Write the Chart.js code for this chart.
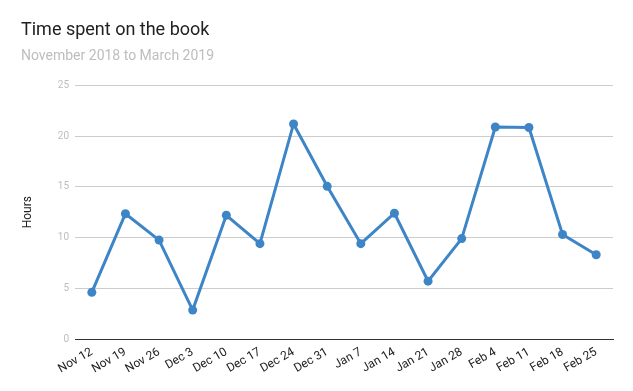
<!DOCTYPE html>
<html>
<head>
<meta charset="utf-8">
<script src="https://cdn.jsdelivr.net/npm/chart.js@4/dist/chart.umd.min.js"></script>
<style>
html,body{margin:0;padding:0;background:#fff;}
#wrap{width:633px;height:391px;position:relative;}
</style>
</head>
<body>
<div id="wrap"><canvas id="c" width="633" height="391"></canvas></div>
<script>
const weeks = ["Nov 12","Nov 19","Nov 26","Dec 3","Dec 10","Dec 17","Dec 24","Dec 31","Jan 7","Jan 14","Jan 21","Jan 28","Feb 4","Feb 11","Feb 18","Feb 25"];
const hours = [4.6, 12.35, 9.75, 2.85, 12.2, 9.4, 21.2, 15.05, 9.4, 12.4, 5.7, 9.9, 20.9, 20.85, 10.3, 8.3];
const yTicks = [0, 5, 10, 15, 20, 25];
const titleText = "Time spent on the book";
const subtitleText = "November 2018 to March 2019";
const yTitle = "Hours";

Chart.defaults.font.family = "Roboto, 'Noto Sans', sans-serif";

new Chart(document.getElementById('c'), {
  type: 'line',
  data: {
    labels: weeks,
    datasets: [{
      data: hours,
      borderColor: '#3d85c6',
      backgroundColor: '#3d85c6',
      borderWidth: 3,
      pointRadius: 4.5,
      pointBorderWidth: 0,
      pointBackgroundColor: '#3d85c6',
      tension: 0,
      fill: false
    }]
  },
  options: {
    responsive: false,
    animation: false,
    devicePixelRatio: 1,
    layout: { padding: { left: 21, right: 20, top: 0, bottom: 0 } },
    plugins: {
      legend: { display: false },
      tooltip: { enabled: false },
      title: {
        display: true, text: titleText, align: 'start', color: '#212121',
        font: { size: 18, weight: 'normal' }, padding: { top: 20, bottom: 6 }
      },
      subtitle: {
        display: true, text: subtitleText, align: 'start', color: '#bdbdbd',
        font: { size: 14, weight: 'normal' }, padding: { top: 0, bottom: 21 }
      }
    },
    scales: {
      x: {
        offset: true,
        grid: { display: false, drawTicks: false },
        border: { display: true, color: '#333333', width: 1 },
        ticks: { color: '#222222', font: { size: 12 }, maxRotation: 30, minRotation: 30, autoSkip: false, padding: 6 },
        afterFit: (s) => { s.height = 52; }
      },
      y: {
        min: 0, max: 25,
        afterBuildTicks: (s) => { s.ticks = yTicks.map(v => ({ value: v })); },
        grid: {
          color: (ctx) => ctx.tick && ctx.tick.value === 0 ? '#333333' : '#cccccc',
          drawTicks: false
        },
        border: { display: false },
        ticks: { color: '#bdbdbd', font: { size: 10 }, padding: 6 },
        title: { display: true, text: yTitle, color: '#222222', font: { size: 12 }, padding: 0 },
        afterFit: (s) => { s.width = 54; }
      }
    }
  }
});
</script>
</body>
</html>
